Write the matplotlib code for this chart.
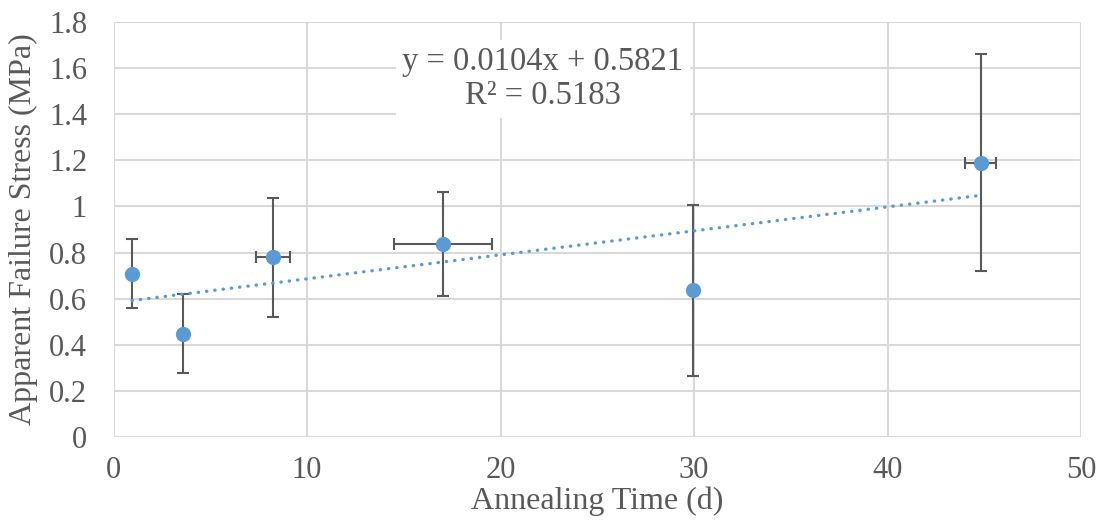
import matplotlib
matplotlib.use("Agg")
import matplotlib.pyplot as plt
import numpy as np

# Data
x_vals = [0.96, 3.58, 8.23, 17.05, 29.94, 44.83]
y_vals = [0.709, 0.448, 0.780, 0.838, 0.636, 1.190]
y_err_low = [0.149, 0.171, 0.261, 0.226, 0.371, 0.471]
y_err_high = [0.148, 0.174, 0.255, 0.226, 0.371, 0.472]
x_err = [0.0, 0.0, 0.88, 2.53, 0.0, 0.80]
slope = 0.0104
intercept = 0.5821
r2 = 0.5183
x_ticks = [0, 10, 20, 30, 40, 50]
y_ticks = [0, 0.2, 0.4, 0.6, 0.8, 1, 1.2, 1.4, 1.6, 1.8]
y_tick_labels = ["0", "0.2", "0.4", "0.6", "0.8", "1", "1.2", "1.4", "1.6", "1.8"]

plt.rcParams['font.family'] = ['Liberation Serif', 'DejaVu Serif']
text_color = "#595959"
blue = "#5B9BD5"

fig = plt.figure(figsize=(11.04, 5.21), dpi=100)
ax = fig.add_axes([113.5/1104, 1 - 437/521, (1081-113.5)/1104, (437-22)/521])

ax.set_xlim(0, 50)
ax.set_ylim(0, 1.8)
ax.set_xticks(x_ticks)
ax.set_yticks(y_ticks)
ax.set_yticklabels(y_tick_labels)
ax.grid(True, color="#D9D9D9", linewidth=1.5)
ax.set_axisbelow(True)
for s in ax.spines.values():
    s.set_visible(False)
ax.tick_params(axis='both', length=0, labelsize=22, colors=text_color)
ax.tick_params(axis='x', pad=14)
ax.tick_params(axis='y', pad=19)

x_err_plot = [xe if xe > 0 else np.nan for xe in x_err]
ax.errorbar(x_vals, y_vals, yerr=[y_err_low, y_err_high], xerr=x_err_plot,
            fmt='none', ecolor="#595959", elinewidth=1.5, capsize=4.3, capthick=1.5, zorder=3)
ax.plot(x_vals, y_vals, 'o', color=blue, markersize=11, markeredgewidth=0, zorder=4)

xt = np.array([min(x_vals), max(x_vals)])
ax.plot(xt, slope * xt + intercept, linestyle=(0, (0.1, 2.4)), color=blue,
        linewidth=2.4, dash_capstyle='round', zorder=5)

ax.text(543/1104, 1 - 79/521, f"y = {slope}x + {intercept}\nR² = {r2}",
        transform=fig.transFigure, ha='center', va='center', fontsize=23.5,
        color=text_color, linespacing=1.13,
        bbox=dict(facecolor='white', edgecolor='none', pad=5), zorder=6)

ax.set_xlabel("Annealing Time (d)", fontsize=23, color=text_color, va='center')
ax.xaxis.set_label_coords(0.5, (437 - 501) / 415)
ax.set_ylabel("Apparent Failure Stress (MPa)", fontsize=23, color=text_color,
              va='center', ha='center')
ax.yaxis.set_label_coords((23 - 113.5) / 967.5, 0.5)

fig.savefig("out.png", dpi=100)
